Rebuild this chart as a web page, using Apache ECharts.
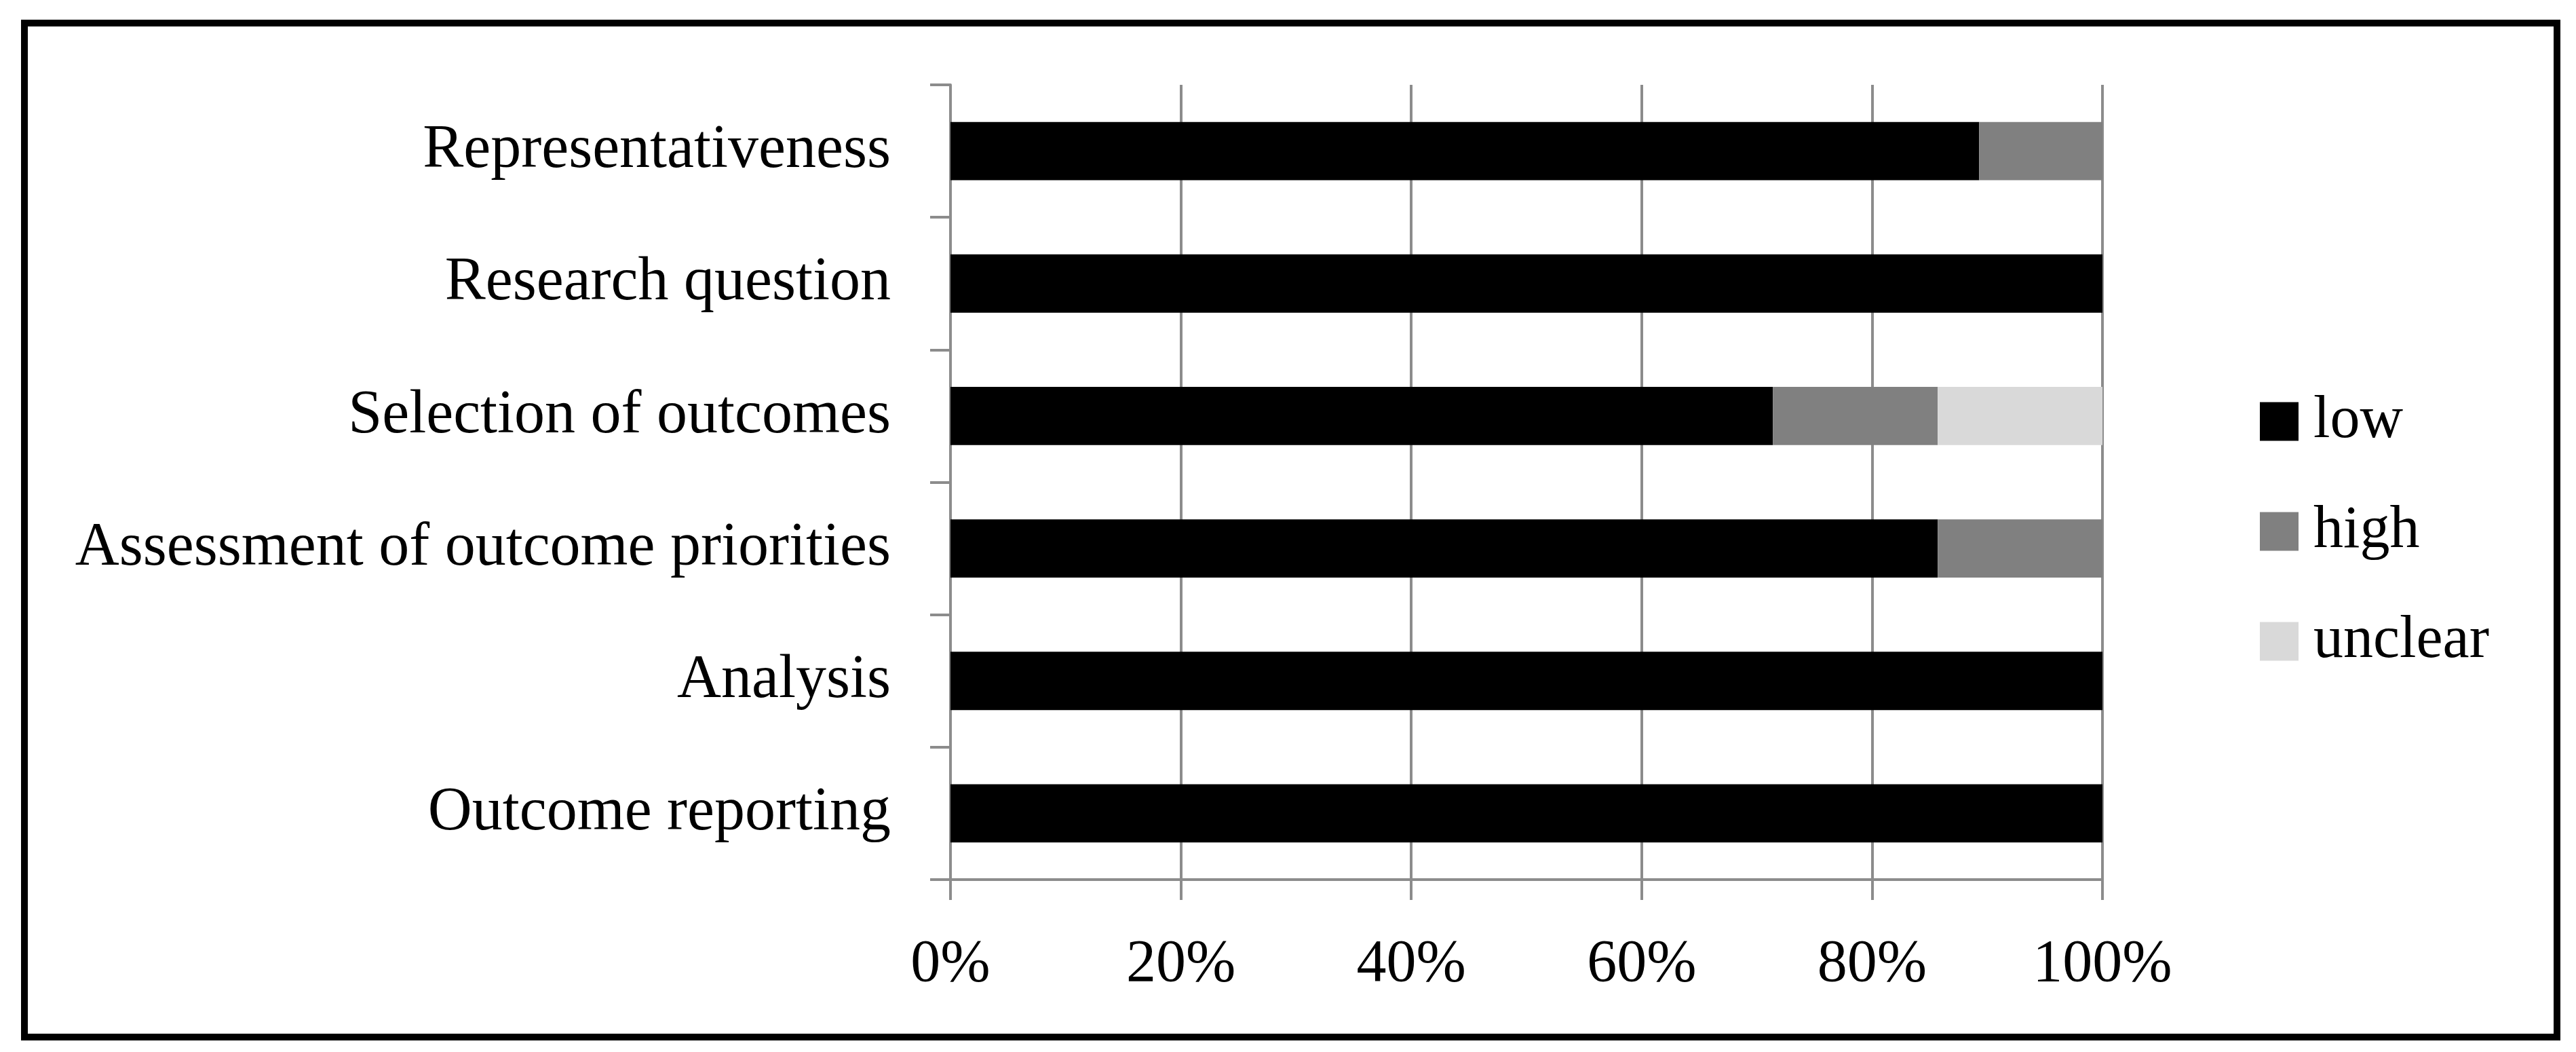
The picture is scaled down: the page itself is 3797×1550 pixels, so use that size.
<!DOCTYPE html>
<html>
<head>
<meta charset="utf-8">
<script src="https://cdn.jsdelivr.net/npm/echarts@6/dist/echarts.min.js"></script>
<style>
html,body{margin:0;padding:0;background:#fff;}
#chart{width:3797px;height:1550px;}
</style>
</head>
<body>
<div id="chart"></div>
<script>
var categories = ["Representativeness","Research question","Selection of outcomes","Assessment of outcome priorities","Analysis","Outcome reporting"];
var lowValues = [89.3, 100, 71.4, 85.7, 100, 100];
var highValues = [10.7, 0, 14.3, 14.3, 0, 0];
var unclearValues = [0, 0, 14.3, 0, 0, 0];
var seriesNames = ["low","high","unclear"];

var FONT = '"Liberation Serif", "Times New Roman", serif';
var GRID_COLOR = '#8c8c8c';

var chart = echarts.init(document.getElementById('chart'), null, {renderer:'canvas'});
var option = {
  backgroundColor:'#ffffff',
  animation:false,
  textStyle:{fontFamily:FONT},
  graphic:[{
    type:'rect', z:100,
    shape:{x:36,y:34,width:3733,height:1494},
    style:{fill:'none',stroke:'#000',lineWidth:10}
  }],
  grid:{left:1401,right:698,top:125,bottom:254,containLabel:false},
  legend:{
    orient:'vertical', left:3331, top:577, padding:0,
    itemWidth:57, itemHeight:57, itemGap:74,
    icon:'rect',
    data:seriesNames,
    textStyle:{fontFamily:FONT,fontSize:88,color:'#000',padding:[0,0,0,17]}
  },
  xAxis:{
    type:'value', min:0, max:100, interval:20,
    axisLine:{show:true,lineStyle:{color:GRID_COLOR,width:4}},
    axisTick:{show:true,length:30,lineStyle:{color:GRID_COLOR,width:4}},
    splitLine:{show:true,lineStyle:{color:GRID_COLOR,width:4}},
    axisLabel:{formatter:'{value}%',fontFamily:FONT,fontSize:88,color:'#000',margin:82}
  },
  yAxis:{
    type:'category', data:categories, inverse:true,
    axisLine:{show:true,lineStyle:{color:GRID_COLOR,width:4}},
    axisTick:{show:true,length:30,lineStyle:{color:GRID_COLOR,width:4}},
    axisLabel:{fontFamily:FONT,fontSize:90,color:'#000',margin:88}
  },
  series:[
    {name:seriesNames[0],type:'bar',stack:'a',data:lowValues,barWidth:'44%',itemStyle:{color:'#000000'}},
    {name:seriesNames[1],type:'bar',stack:'a',data:highValues,barWidth:'44%',itemStyle:{color:'#808080'}},
    {name:seriesNames[2],type:'bar',stack:'a',data:unclearValues,barWidth:'44%',itemStyle:{color:'#d9d9d9'}}
  ]
};
chart.setOption(option);
</script>
</body>
</html>
